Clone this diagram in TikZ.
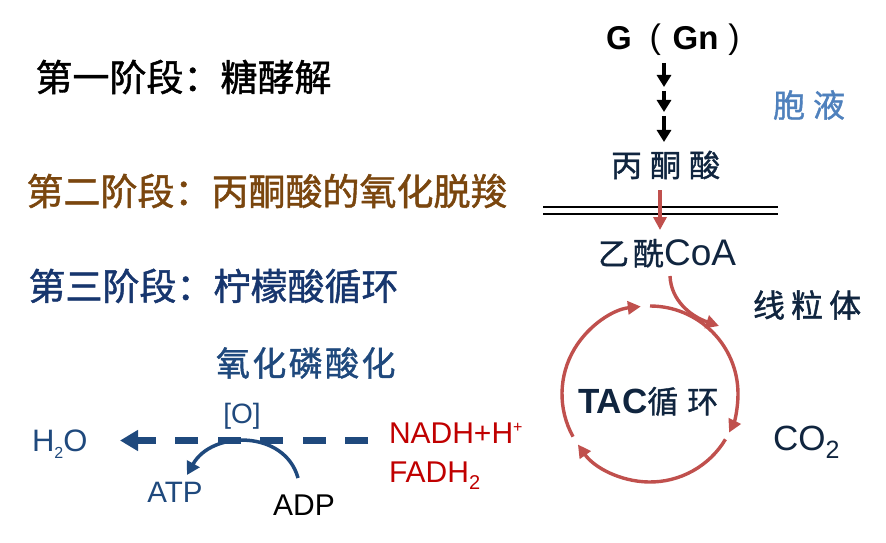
\documentclass[tikz,border=0pt]{standalone}
\usepackage{fontspec}
\setmainfont{Liberation Sans}
\newfontfamily\cjk{Noto Sans CJK SC}[FakeBold=1.2]
\usetikzlibrary{arrows.meta}
\definecolor{stagebrown}{RGB}{122,70,14}
\definecolor{stagenavy}{RGB}{23,54,110}
\definecolor{darknavy}{RGB}{16,37,63}
\definecolor{oxblue}{RGB}{31,73,125}
\definecolor{cytoblue}{RGB}{79,129,189}
\definecolor{tacred}{RGB}{192,80,77}
\definecolor{nadhred}{RGB}{192,0,0}
\newcommand{\cjkfont}[2]{\cjk\fontsize{#1}{#1}\selectfont\addfontfeature{LetterSpace=#2}}
\newcommand{\latfont}[1]{\fontsize{#1}{#1}\selectfont}
\begin{document}
\begin{tikzpicture}[x=1pt,y=1pt,
  every node/.style={inner sep=0pt,outer sep=0pt},
  stagetext/.style={anchor=west, font=\cjkfont{37}{0}},
  blackarrow/.style={draw=black, line width=3.5pt, -{Triangle[length=12pt,width=14pt]}},
  redarrow/.style={draw=tacred, line width=3.4pt, -{Triangle[length=13pt,width=13pt]}},
  membrane/.style={draw=black, line width=1.2pt},
  oxarrow/.style={draw=oxblue, line width=6.5pt, dash pattern=on 23pt off 19.5pt, -{Triangle[length=18pt,width=20pt]}},
  atparrow/.style={draw=oxblue, line width=3.5pt, -{Triangle[length=13pt,width=14pt]}}]
\useasboundingbox (0,0) rectangle (886,542);
\fill[white] (0,0) rectangle (886,542);

% stage labels
\node[stagetext, text=black] (s1) at (35.5,465) {第一阶段：糖酵解};
\node[stagetext, text=stagebrown] (s2) at (26.5,351) {第二阶段：丙酮酸的氧化脱羧};
\node[stagetext, text=stagenavy] (s3) at (28.5,256) {第三阶段：柠檬酸循环};
\node[anchor=west, font=\cjkfont{34}{7}, text=oxblue] (oxp) at (216,179) {氧化磷酸化};

% right pathway
\node[anchor=base west, font=\bfseries\latfont{33}, text=black] (g) at (606,492)
  {G\hspace{17pt}\makebox[13pt][c]{\mdseries\latfont{34}\raisebox{1pt}{(}}\hspace{11pt}Gn\hspace{9pt}\makebox[13pt][c]{\mdseries\latfont{34}\raisebox{1pt}{)}}};
\node[anchor=west, font=\cjkfont{32}{25}, text=cytoblue] (cyto) at (773,437) {胞液};
\node[anchor=west, font=\cjkfont{31}{26}, text=darknavy] (pyr) at (611,377) {丙酮酸};
\node[anchor=base west, text=darknavy] (acoa) at (598,277) {{\cjkfont{31}{13}乙酰}{\latfont{37}CoA}};
\node[anchor=west, font=\cjkfont{32}{19}, text=darknavy] (mito) at (753,237) {线粒体};
\node[anchor=base west, text=darknavy] (tac) at (578,129) {{\bfseries\latfont{35}TAC}{\cjkfont{31}{29}循环}};
\node[anchor=base west, text=darknavy, font=\latfont{35}] (co2) at (773,92) {CO\raisebox{-8pt}{\latfont{25}2}};

% bottom left
\node[anchor=base west, text=oxblue, font=\latfont{31}] (h2o) at (32,91) {H\raisebox{-7pt}{\latfont{16}2}O};
\node[anchor=base, text=oxblue, font=\latfont{28}] (o) at (242,119) {[O]};
\node[anchor=base, text=oxblue, font=\latfont{29.5}] (atp) at (175,40) {ATP};
\node[anchor=base, text=black, font=\latfont{30}] (adp) at (304,27) {ADP};
\node[anchor=base west, text=nadhred, font=\latfont{30}] (nadh) at (389,99) {NADH+H\raisebox{11pt}{\latfont{16}+}};
\node[anchor=base west, text=nadhred, font=\latfont{30}] (fadh) at (389,60) {FADH\raisebox{-7pt}{\latfont{20}2}};

% connector end points
\coordinate (b1s) at (664,479); \coordinate (b1e) at (664,455);
\coordinate (b2s) at (664,451); \coordinate (b2e) at (664,430);
\coordinate (b3s) at (664,426); \coordinate (b3e) at (664,400);
\coordinate (rs) at (660,352); \coordinate (re) at (660,312);
\coordinate (m1l) at (543,335); \coordinate (m1r) at (778,335);
\coordinate (m2l) at (543,328); \coordinate (m2r) at (778,328);
\coordinate (cs) at (670,266); \coordinate (ce) at (719,216);
\coordinate (tc) at (650,148);
\coordinate (ds) at (368,101.5); \coordinate (de) at (120,101.5);
\coordinate (ps) at (298,64); \coordinate (pe) at (187,67);

\draw[blackarrow] (b1s) -- (b1e);
\draw[blackarrow] (b2s) -- (b2e);
\draw[blackarrow] (b3s) -- (b3e);
\draw[membrane] (m1l) -- (m1r);
\draw[membrane] (m2l) -- (m2r);
\draw[redarrow] (rs) -- (re);
\draw[redarrow] (cs) .. controls (671,242) and (690,226) .. (ce);

% TAC cycle
\draw[redarrow] ([shift={(90:88)}]tc) arc[start angle=90, end angle=-26, radius=88];
\draw[redarrow] ([shift={(-31:88)}]tc) arc[start angle=-31, end angle=-145, radius=88];
\draw[redarrow] ([shift={(209:88)}]tc) arc[start angle=209, end angle=96, radius=88];

% oxidative phosphorylation
\draw[oxarrow] (ds) -- (de);
\draw[atparrow] (ps) .. controls (285,112) and (212,112) .. (pe);
\end{tikzpicture}
\end{document}
